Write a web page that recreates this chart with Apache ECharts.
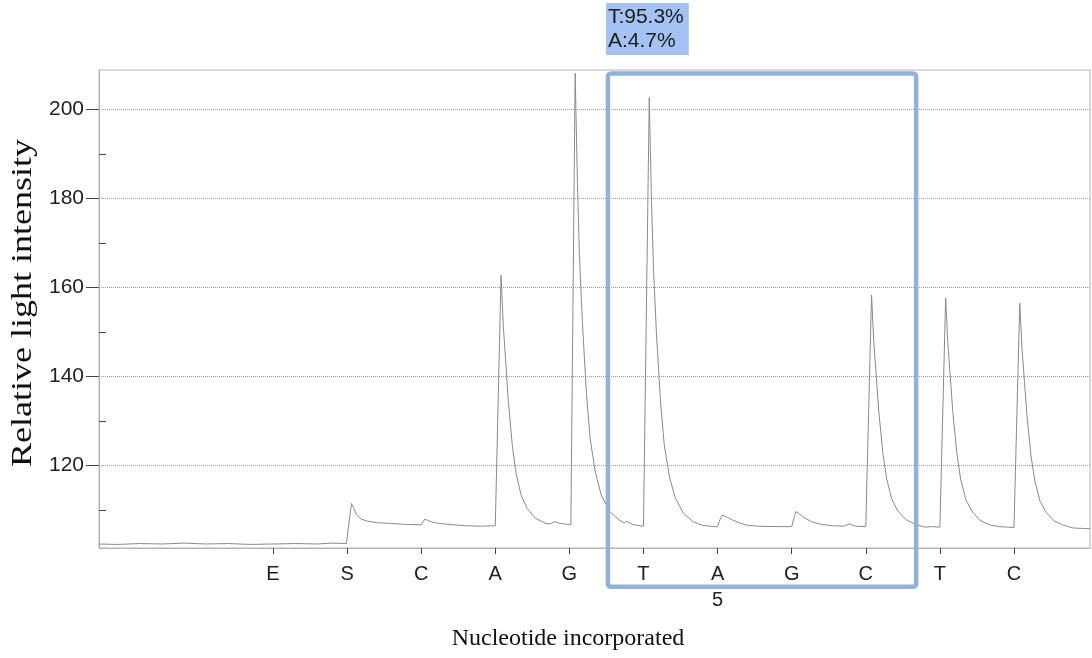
<!DOCTYPE html>
<html>
<head>
<meta charset="utf-8">
<script src="https://cdn.jsdelivr.net/npm/echarts@6/dist/echarts.min.js"></script>
<style>
  html, body { margin: 0; padding: 0; background: #fff; }
  #main { width: 1092px; height: 658px; }
</style>
</head>
<body>
<div id="main"></div>
<script>
// dispensation order and where each one sits on the run axis
var dispensations = ['E', 'S', 'C', 'A', 'G', 'T', 'A', 'G', 'C', 'T', 'C'];
var dispensationAt = [300, 400, 500, 600, 700, 800, 900, 1000, 1100, 1200, 1300];
var positionNumberAt = [900];
var positionNumberText = ['5'];

var yLabelTicks = [120, 140, 160, 180, 200];
var yMinorTicks = [110, 130, 150, 170, 190];

// trace, one piece per dispensation  [run, intensity]
var traceStart = [[65.2, 102.4], [90, 102.3], [120, 102.5], [150, 102.4], [180, 102.6], [210, 102.4], [240, 102.5], [270, 102.3], [298, 102.4], [300, 102.8], [302, 102.4], [330, 102.5], [360, 102.4], [380, 102.6], [399, 102.5]];
var traceS = [[401.5, 102.6], [406, 111.5], [409, 110.4], [413, 108.9], [419, 108.0], [426, 107.6], [440, 107.2], [460, 107.0], [480, 106.8], [500, 106.7]];
var traceC1 = [[502, 106.7], [505, 108.0], [510, 107.6], [518, 107.2], [530, 106.9], [545, 106.7], [560, 106.5], [580, 106.4], [600, 106.5]];
var traceA1 = [[602, 106.5], [607.8, 162.8], [610.8, 151.5], [613.5, 144.8], [617.5, 134.7], [623, 124.5], [628, 118.3], [635, 113.3], [643, 110.4], [654, 108.2], [667, 107.1], [674, 106.9], [680, 107.4], [688, 107.0], [698, 106.8]];
var traceG1 = [[702, 106.8], [707.8, 208.2], [710.8, 183.9], [713.5, 167.6], [717.5, 152.4], [723, 136.2], [728, 126.1], [735, 118.5], [743, 113.4], [754, 109.8], [767, 107.8], [774, 107.1], [777, 107.5], [785, 106.8], [795, 106.5], [800, 106.4]];
var traceT1 = [[802, 106.4], [807.8, 202.7], [810.8, 179.6], [813.5, 164.2], [817.5, 149.7], [823, 134.3], [828, 124.7], [835, 117.5], [843, 112.7], [854, 109.3], [867, 107.4], [880, 106.6], [895, 106.3], [900, 106.3]];
var traceA2 = [[902, 106.3], [903.5, 108.0], [907, 108.9], [912, 108.5], [920, 107.8], [930, 107.1], [940, 106.6], [955, 106.4], [980, 106.3], [1000, 106.3]];
var traceG2 = [[1001.5, 106.3], [1003.5, 108.5], [1006, 109.7], [1010, 109.2], [1017, 108.3], [1027, 107.4], [1040, 106.8], [1055, 106.5], [1070, 106.4], [1078, 106.9], [1086, 106.4], [1100, 106.3]];
var traceC2 = [[1102, 106.3], [1107.8, 158.3], [1110.8, 147.9], [1113.5, 141.7], [1117.5, 132.3], [1123, 122.9], [1128, 117.2], [1135, 112.5], [1143, 109.9], [1154, 107.9], [1167, 106.8], [1180, 106.2], [1190, 106.3], [1200, 106.2]];
var traceT2 = [[1202, 106.2], [1207.8, 157.7], [1210.8, 147.4], [1213.5, 141.2], [1217.5, 132.0], [1223, 122.7], [1228, 117.0], [1235, 112.4], [1243, 109.8], [1254, 107.7], [1267, 106.7], [1280, 106.3], [1290, 106.2], [1300, 106.1]];
var traceC3 = [[1302, 106.1], [1307.8, 156.5], [1310.8, 146.4], [1313.5, 140.4], [1317.5, 131.3], [1323, 122.2], [1328, 116.7], [1335, 112.1], [1343, 109.6], [1354, 107.6], [1367, 106.6], [1380, 106.0], [1392, 105.9], [1402.6, 105.8]];

// highlighted window (run units / intensity) and its allele call
var windowRun = [752, 1168];
var windowIntensity = [208.1, 92.8];
var alleleText = ['T:95.3%', 'A:4.7%'];

var trace = [].concat(traceStart, traceS, traceC1, traceA1, traceG1, traceT1, traceA2, traceG2, traceC2, traceT2, traceC3);

var myChart = echarts.init(document.getElementById('main'));

var axisGray = '#b4b4b4';
var sans = '"Liberation Sans", Arial, sans-serif';
var serif = '"Liberation Serif", "Times New Roman", serif';

var option = {
    animation: false,
    grid: {
        left: 99, right: 2, top: 70, bottom: 110,
        show: true, borderColor: axisGray, borderWidth: 1
    },
    xAxis: [{
        type: 'value',
        min: 65.2, max: 1402.6,
        axisLine: { lineStyle: { color: axisGray } },
        axisTick: { customValues: dispensationAt, length: 6, lineStyle: { color: '#444' } },
        axisLabel: {
            customValues: dispensationAt,
            formatter: function (v) { return dispensations[dispensationAt.indexOf(v)]; },
            fontFamily: sans, fontSize: 20, color: '#222', margin: 16
        },
        splitLine: { show: false }
    }, {
        type: 'value',
        position: 'bottom',
        offset: 26,
        min: 65.2, max: 1402.6,
        axisLine: { show: false },
        axisTick: { show: false },
        axisLabel: {
            customValues: positionNumberAt,
            formatter: function (v) { return positionNumberText[positionNumberAt.indexOf(v)]; },
            fontFamily: sans, fontSize: 20, color: '#222', margin: 16
        },
        splitLine: { show: false }
    }],
    yAxis: [{
        type: 'value',
        min: 101.5, max: 208.9,
        axisLine: { show: true, lineStyle: { color: axisGray } },
        axisTick: { show: true, customValues: yLabelTicks, length: 13, lineStyle: { color: '#444' } },
        axisLabel: {
            customValues: yLabelTicks,
            fontFamily: sans, fontSize: 21, color: '#222', margin: 15
        },
        splitLine: { show: true, lineStyle: { color: '#9a9a9a', type: 'dotted', width: 1 } }
    }, {
        type: 'value',
        min: 101.5, max: 208.9,
        position: 'left',
        axisLine: { show: false },
        axisTick: { show: true, inside: true, customValues: yMinorTicks, length: 7, lineStyle: { color: '#444' } },
        axisLabel: { show: false },
        splitLine: { show: false }
    }],
    series: [{
        type: 'line',
        data: trace,
        showSymbol: false,
        lineStyle: { color: '#8a8a8a', width: 1 }
    }]
};

myChart.setOption(option);

// window box and the label above it, placed through the chart's own scales
var p0 = myChart.convertToPixel({ gridIndex: 0 }, [windowRun[0], windowIntensity[0]]);
var p1 = myChart.convertToPixel({ gridIndex: 0 }, [windowRun[1], windowIntensity[1]]);

myChart.setOption({
    graphic: [{
        type: 'rect',
        z: 100,
        shape: { x: p0[0], y: p0[1], width: p1[0] - p0[0], height: p1[1] - p0[1], r: 3 },
        style: { fill: 'none', stroke: '#92b0d8', lineWidth: 4.5 }
    }, {
        type: 'text',
        z: 100,
        x: p0[0] - 2, y: 3,
        style: {
            text: alleleText.join('\n'),
            font: '21px ' + sans,
            fill: '#1c1c1c',
            backgroundColor: '#a4c2f4',
            padding: [2, 5, 2, 2],
            lineHeight: 24
        }
    }, {
        // axis title, stretched along its length like the source figure
        type: 'text',
        x: 23, y: 303,
        rotation: Math.PI / 2,
        scaleX: 1.2,
        style: {
            text: 'Relative light intensity',
            font: '30px ' + serif,
            fill: '#111',
            align: 'center',
            verticalAlign: 'middle'
        }
    }, {
        type: 'text',
        x: 568, y: 639,
        style: {
            text: 'Nucleotide incorporated',
            font: '24px ' + serif,
            fill: '#111',
            align: 'center',
            verticalAlign: 'middle'
        }
    }]
});
</script>
</body>
</html>
